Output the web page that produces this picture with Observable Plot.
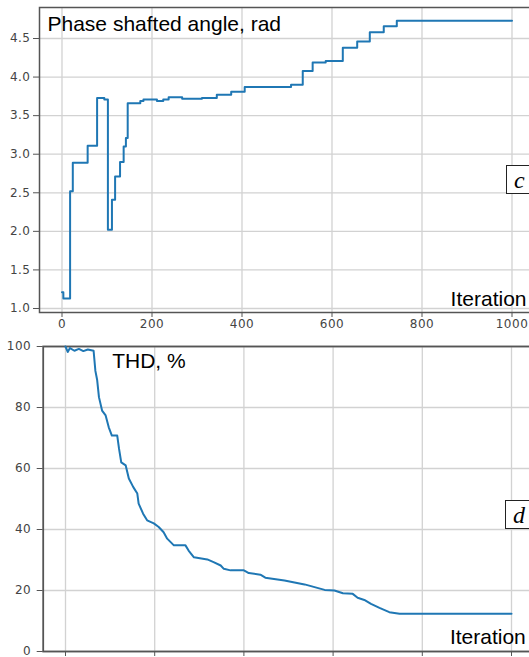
<!DOCTYPE html>
<html>
<head>
<meta charset="utf-8">
<script src="https://cdn.jsdelivr.net/npm/d3@7"></script>
<script src="https://cdn.jsdelivr.net/npm/@observablehq/plot@0.6"></script>
<style>
  html, body { margin: 0; padding: 0; background: #fff; overflow: hidden; }
  #wrap { position: relative; width: 529px; height: 657px; overflow: hidden; background: #fff; }
  #wrap svg { position: absolute; left: 0; max-width: none !important; }
  .box { position: absolute; width: 40px; height: 27px; border: 1px solid #222; background: #fff;
         font-family: "Liberation Serif", serif; font-style: italic; font-size: 24px; line-height: 24px; }
  .box span { position: absolute; left: 7px; top: 2px; }
</style>
</head>
<body>
<div id="wrap"></div>
<script>
// ---- Panel c: phase shifted angle (step series) ----
const iterTop = [0, 3, 18, 24, 57, 78, 94, 102, 111, 118, 129, 137, 142, 146, 174, 181, 211, 225, 237, 267, 311, 344, 376, 406, 509, 535, 557, 586, 624, 656, 684, 715, 744, 1000];
const angle   = [1.21, 1.13, 2.52, 2.89, 3.11, 3.73, 3.71, 2.02, 2.41, 2.71, 2.90, 3.10, 3.21, 3.66, 3.69, 3.71, 3.69, 3.71, 3.74, 3.72, 3.73, 3.77, 3.81, 3.87, 3.90, 4.08, 4.19, 4.21, 4.38, 4.46, 4.58, 4.66, 4.73, 4.73];

// ---- Panel d: THD, % ----
const iterBot = [0, 5, 10, 20, 30, 40, 50, 63, 67, 71, 75, 82, 90, 97, 104, 116, 120, 125, 135, 142, 152, 161, 164, 174, 183, 198, 209, 220, 228, 243, 269, 276, 288, 318, 332, 348, 355, 370, 400, 411, 437, 448, 491, 536, 581, 603, 622, 644, 655, 670, 685, 704, 726, 749, 1000];
const thd     = [100, 98.2, 99.5, 98.6, 99.2, 98.5, 99.0, 98.6, 92.0, 89.0, 83.4, 79.0, 77.4, 73.5, 70.8, 70.8, 66.5, 62.0, 61.0, 56.7, 53.9, 51.8, 48.5, 45.2, 43.0, 42.0, 40.8, 39.1, 37.0, 34.8, 34.8, 33.1, 30.9, 30.2, 29.3, 28.2, 27.1, 26.6, 26.6, 25.7, 25.2, 24.2, 23.3, 22.0, 20.2, 20.0, 19.1, 18.9, 17.6, 16.9, 15.6, 14.3, 12.9, 12.4, 12.4];

const xTicks = [0, 200, 400, 600, 800, 1000];
const yTicksTop = [1.0, 1.5, 2.0, 2.5, 3.0, 3.5, 4.0, 4.5];
const yTicksBot = [0, 20, 40, 60, 80, 100];

const topData = iterTop.map((x, i) => ({x, y: angle[i]}));
const botData = iterBot.map((x, i) => ({x, y: thd[i]}));

const BLUE = "#1f77b4", GRID = "#d2d2d2", SPINE = "#555", TICKTXT = "#444";
const labelFont = "Liberation Sans, Arial, sans-serif";

const plotC = Plot.plot({
  width: 534, height: 338,
  marginLeft: 39, marginRight: 0, marginTop: 7, marginBottom: 26,
  x: {domain: [-50, 1050]},
  y: {domain: [0.948, 4.902]},
  style: {fontFamily: "DejaVu Sans, sans-serif", fontSize: "12px", color: SPINE, background: "transparent", maxWidth: "none"},
  marks: [
    Plot.gridX(xTicks, {stroke: GRID, strokeOpacity: 1, strokeWidth: 1.3}),
    Plot.gridY(yTicksTop, {stroke: GRID, strokeOpacity: 1, strokeWidth: 1.3}),
    Plot.axisY(yTicksTop, {tickFormat: d3.format(".1f"), tickSize: 6, tickPadding: 3, label: null, fill: TICKTXT, fontSize: 12}),
    Plot.axisX(xTicks, {tickFormat: d3.format("d"), tickSize: 5, tickPadding: 2, label: null, fill: TICKTXT, fontSize: 12}),
    Plot.frame({stroke: SPINE, strokeWidth: 1.5}),
    Plot.line(topData, {x: "x", y: "y", curve: "step-after", stroke: BLUE, strokeWidth: 2}),
    Plot.text(["Phase shafted angle, rad"], {frameAnchor: "top-left", lineAnchor: "top", textAnchor: "start", dx: 8, dy: 9, fontSize: 21, fontFamily: labelFont, fill: "#000"}),
    Plot.text(["Iteration"], {frameAnchor: "bottom-right", lineAnchor: "top", textAnchor: "end", dx: -8, dy: -21, fontSize: 21, fontFamily: labelFont, fill: "#000"})
  ]
});

const plotD = Plot.plot({
  width: 534, height: 319,
  marginLeft: 42.7, marginRight: 0.7, marginTop: 8, marginBottom: 6,
  x: {domain: [-50, 1050]},
  y: {domain: [0, 100]},
  style: {fontFamily: "DejaVu Sans, sans-serif", fontSize: "12px", color: SPINE, background: "transparent", maxWidth: "none"},
  marks: [
    Plot.gridX(xTicks, {stroke: GRID, strokeOpacity: 1, strokeWidth: 1.3}),
    Plot.gridY(yTicksBot, {stroke: GRID, strokeOpacity: 1, strokeWidth: 1.3}),
    Plot.axisY(yTicksBot, {tickSize: 6, tickPadding: 6, label: null, fill: TICKTXT, fontSize: 12}),
    Plot.axisX(xTicks, {tickSize: 5, tickFormat: () => "", label: null}),
    Plot.frame({stroke: SPINE, strokeWidth: 1.8}),
    Plot.line(botData, {x: "x", y: "y", stroke: BLUE, strokeWidth: 2}),
    Plot.text(["THD, %"], {frameAnchor: "top-left", lineAnchor: "top", textAnchor: "start", dx: 69, dy: 7, fontSize: 21, fontFamily: labelFont, fill: "#000"}),
    Plot.text(["Iteration"], {frameAnchor: "bottom-right", lineAnchor: "top", textAnchor: "end", dx: -8, dy: -22, fontSize: 21, fontFamily: labelFont, fill: "#000"})
  ]
});

for (const svg of [plotC, plotD]) {
  d3.select(svg).selectAll('[aria-label$="tick label"] text').attr("letter-spacing", "0.5px");
  svg.style.maxWidth = "none";
}

const wrap = document.getElementById("wrap");
plotC.style.top = "0px";
plotD.style.top = "338px";
wrap.appendChild(plotC);
wrap.appendChild(plotD);

function addBox(letter, left, topPx) {
  const b = document.createElement("div");
  b.className = "box";
  b.style.left = left + "px";
  b.style.top = topPx + "px";
  const s = document.createElement("span");
  s.textContent = letter;
  b.appendChild(s);
  wrap.appendChild(b);
}
addBox("c", 506, 165);
addBox("d", 505, 500);
</script>
</body>
</html>
